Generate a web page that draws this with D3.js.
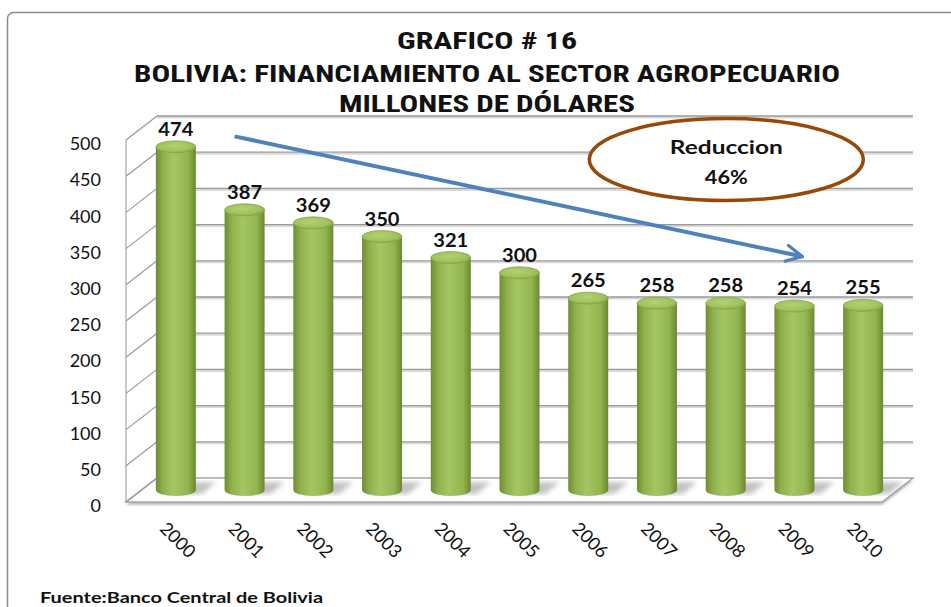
<!DOCTYPE html>
<html>
<head>
<meta charset="utf-8">
<script src="https://cdn.jsdelivr.net/npm/d3@7"></script>
<style>
  body { margin: 0; background: #fff; }
  svg { display: block; }
  .lbl { font-family: Lato, "Open Sans", sans-serif; }
</style>
</head>
<body>
<div id="chart"></div>
<script>
// data
const years = ["2000","2001","2002","2003","2004","2005","2006","2007","2008","2009","2010"];
const values = [474, 387, 369, 350, 321, 300, 265, 258, 258, 254, 255];
const titleLines = ["GRAFICO # 16", "BOLIVIA: FINANCIAMIENTO AL SECTOR AGROPECUARIO", "MILLONES DE DÓLARES"];
const noteLines = ["Reduccion", "46%"];
const source = "Fuente:Banco Central de Bolivia";

const W = 951, H = 607;
const depth = { dx: 31, dy: -24 };   // 3d offset of the back wall

const svg = d3.select("#chart").append("svg")
    .attr("width", W)
    .attr("height", H);

const defs = svg.append("defs");

// cylinder shading
const body = defs.append("linearGradient").attr("id", "cyl").attr("x1", 0).attr("x2", 1);
body.append("stop").attr("offset", "0%").attr("stop-color", "#6f8c33");
body.append("stop").attr("offset", "18%").attr("stop-color", "#8fb04c");
body.append("stop").attr("offset", "45%").attr("stop-color", "#a5c763");
body.append("stop").attr("offset", "80%").attr("stop-color", "#93b550");
body.append("stop").attr("offset", "100%").attr("stop-color", "#6a8830");

const cap = defs.append("radialGradient").attr("id", "cap").attr("cx", "45%").attr("cy", "40%").attr("r", "65%");
cap.append("stop").attr("offset", "0%").attr("stop-color", "#b3d174");
cap.append("stop").attr("offset", "70%").attr("stop-color", "#9fc15c");
cap.append("stop").attr("offset", "100%").attr("stop-color", "#7f9f3e");

defs.append("filter").attr("id", "blur").append("feGaussianBlur").attr("stdDeviation", 2.5);
defs.append("filter").attr("id", "soft").append("feGaussianBlur").attr("stdDeviation", 0.8);

defs.append("marker")
    .attr("id", "arrowhead")
    .attr("viewBox", "0 0 10 10")
    .attr("refX", 9).attr("refY", 5)
    .attr("markerWidth", 5).attr("markerHeight", 5)
    .attr("orient", "auto")
    .append("path")
    .attr("d", "M1,1 L9,5 L1,9")
    .attr("fill", "none")
    .attr("stroke", "#4f81bd")
    .attr("stroke-width", 1.6)
    .attr("stroke-linecap", "round");

// frame
svg.append("rect")
    .attr("x", 7.5).attr("y", 12.5)
    .attr("width", 960).attr("height", 620)
    .attr("rx", 6)
    .attr("fill", "#fff")
    .attr("stroke", "#8c8c8c")
    .attr("stroke-width", 1.5);

// scales
const x = d3.scaleBand().domain(years).range([126, 882]).paddingInner(0).paddingOuter(0);
const y = d3.scaleLinear().domain([0, 500]).range([502, 140]);
const ticks = y.ticks(10);
const barW = 40;
const cx = d => x(d) + x.bandwidth() / 2 + depth.dx / 2;

// floor
const fl = [[x.range()[0], y(0)], [x.range()[1], y(0)], [x.range()[1] + depth.dx, y(0) + depth.dy], [x.range()[0] + depth.dx, y(0) + depth.dy]];
svg.append("polygon")
    .attr("points", fl.map(p => [p[0], p[1] + 3].join(",")).join(" "))
    .attr("fill", "#bdbdbd")
    .attr("filter", "url(#soft)");
svg.append("polygon")
    .attr("points", fl.map(p => p.join(",")).join(" "))
    .attr("fill", "#fff")
    .attr("stroke", "#a6a6a6")
    .attr("stroke-width", 1.5);

// walls / gridlines
const grid = svg.append("g").attr("fill", "none");
grid.selectAll(".shadow")
    .data(ticks.filter(t => t > 0))
    .join("line")
    .attr("x1", x.range()[0] + depth.dx).attr("x2", x.range()[1] + depth.dx)
    .attr("y1", d => y(d) + depth.dy + 1.5).attr("y2", d => y(d) + depth.dy + 1.5)
    .attr("stroke", "#d9d9d9").attr("stroke-width", 2);
grid.selectAll(".back")
    .data(ticks.filter(t => t > 0))
    .join("line")
    .attr("x1", x.range()[0] + depth.dx).attr("x2", x.range()[1] + depth.dx)
    .attr("y1", d => y(d) + depth.dy).attr("y2", d => y(d) + depth.dy)
    .attr("stroke", "#9a9a9a").attr("stroke-width", 1.3);
grid.selectAll(".side")
    .data(ticks)
    .join("line")
    .attr("x1", x.range()[0]).attr("x2", x.range()[0] + depth.dx)
    .attr("y1", d => y(d)).attr("y2", d => y(d) + depth.dy)
    .attr("stroke", "#9a9a9a").attr("stroke-width", 1.2);
grid.append("line")
    .attr("x1", x.range()[0]).attr("x2", x.range()[0])
    .attr("y1", y(0)).attr("y2", y(500))
    .attr("stroke", "#a6a6a6").attr("stroke-width", 1.2);

// floor shadows behind each cylinder
const baseY = y(0) + depth.dy / 2;
svg.append("g").selectAll("path")
    .data(years)
    .join("path")
    .attr("d", d => {
        const c = cx(d);
        return `M${c - 12},${baseY + 4} L${c + 26},${baseY + 4} L${c + 40},${baseY - 8} L${c + 4},${baseY - 8} Z`;
    })
    .attr("fill", "#9a9a9a")
    .attr("opacity", 0.6)
    .attr("filter", "url(#blur)");

// cylinders
const bars = svg.append("g").selectAll("g")
    .data(years.map((d, i) => ({ year: d, value: values[i] })))
    .join("g");

bars.append("path")
    .attr("d", d => {
        const c = cx(d.year), top = y(d.value) + depth.dy / 2, r = barW / 2, ry = 6;
        return `M${c - r},${top} L${c - r},${baseY} A${r},${ry} 0 0 0 ${c + r},${baseY} L${c + r},${top} Z`;
    })
    .attr("fill", "url(#cyl)");

bars.append("ellipse")
    .attr("cx", d => cx(d.year))
    .attr("cy", d => y(d.value) + depth.dy / 2)
    .attr("rx", barW / 2).attr("ry", 6)
    .attr("fill", "url(#cap)")
    .attr("stroke", "#86a645")
    .attr("stroke-width", 0.8);

// value labels
bars.append("text")
    .attr("class", "lbl")
    .attr("x", d => cx(d.year))
    .attr("y", d => y(d.value) + depth.dy / 2 - 11)
    .attr("text-anchor", "middle")
    .attr("font-weight", "bold")
    .attr("font-size", 19)
    .attr("textLength", 35)
    .attr("lengthAdjust", "spacingAndGlyphs")
    .attr("fill", "#111")
    .text(d => d.value);

// y axis
const yAxis = d3.axisLeft(y).tickValues(ticks).tickSize(0).tickPadding(0);
const ya = svg.append("g").attr("transform", "translate(101,4)").call(yAxis);
ya.select(".domain").remove();
ya.selectAll("text")
    .attr("class", "lbl")
    .attr("font-size", 18)
    .attr("fill", "#111");

// x axis labels, rotated
svg.append("g").selectAll("text")
    .data(years)
    .join("text")
    .attr("class", "lbl")
    .attr("transform", d => `translate(${cx(d) + 2},540) rotate(45)`)
    .attr("text-anchor", "middle")
    .attr("dy", "0.35em")
    .attr("font-size", 18)
    .attr("fill", "#111")
    .text(d => d);

// title
const titleY = [49, 82, 112];
const titleLen = [180, 706, 296];
svg.append("g").selectAll("text")
    .data(titleLines)
    .join("text")
    .attr("x", 487)
    .attr("y", (d, i) => titleY[i])
    .attr("text-anchor", "middle")
    .attr("font-family", "'Liberation Sans Narrow', 'Roboto Condensed', 'Liberation Sans', sans-serif")
    .attr("font-weight", "bold")
    .attr("font-size", 24)
    .attr("textLength", (d, i) => titleLen[i])
    .attr("lengthAdjust", "spacingAndGlyphs")
    .attr("fill", "#111")
    .text(d => d);

// trend arrow
svg.append("line")
    .attr("x1", cx("2001") - 10).attr("y1", y(505))
    .attr("x2", cx("2009") + 8).attr("y2", y(339))
    .attr("stroke", "#4f81bd")
    .attr("stroke-width", 4)
    .attr("marker-end", "url(#arrowhead)");

// annotation ellipse
const ex = (cx("2007") + cx("2008")) / 2 + 35, ey = y(473);
svg.append("ellipse")
    .attr("cx", ex).attr("cy", ey)
    .attr("rx", 137).attr("ry", 41)
    .attr("fill", "#fff")
    .attr("stroke", "#984807")
    .attr("stroke-width", 3.5);
const noteLen = [113, 43];
svg.append("g").selectAll("text")
    .data(noteLines)
    .join("text")
    .attr("class", "lbl")
    .attr("x", ex)
    .attr("y", (d, i) => ey - 6 + i * 30)
    .attr("text-anchor", "middle")
    .attr("font-weight", "bold")
    .attr("font-size", 19)
    .attr("textLength", (d, i) => noteLen[i])
    .attr("lengthAdjust", "spacingAndGlyphs")
    .attr("fill", "#111")
    .text(d => d);

// source
svg.append("text")
    .attr("class", "lbl")
    .attr("x", 40).attr("y", 603)
    .attr("font-weight", "bold")
    .attr("font-size", 15)
    .attr("textLength", 283)
    .attr("lengthAdjust", "spacingAndGlyphs")
    .attr("fill", "#111")
    .text(source);
</script>
</body>
</html>
